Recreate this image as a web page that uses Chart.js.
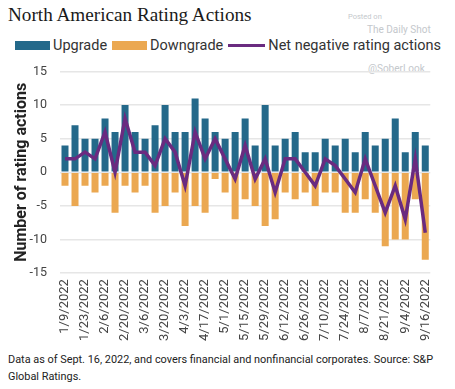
<!DOCTYPE html>
<html>
<head>
<meta charset="utf-8">
<script src="https://cdn.jsdelivr.net/npm/chart.js@4/dist/chart.umd.min.js"></script>
<style>
  body { margin: 0; background: #fff; font-family: Roboto, sans-serif; }
  #wrap { position: relative; width: 455px; height: 389px; overflow: hidden; }
  #title { position: absolute; left: 8px; top: 4px; font-family: "Liberation Serif", serif; font-size: 19.2px; color: #1a1a1a; }
  #legend { position: absolute; left: 15px; top: 37px; display: flex; align-items: center; font-size: 14.5px; color: #333; white-space: nowrap; }
  #legend .sw { display: inline-block; width: 35px; height: 9px; margin-right: 3px; }
  #legend .ln { display: inline-block; width: 37px; height: 3px; margin-right: 3px; }
  #legend span.item { display: inline-flex; align-items: center; margin-right: 5px; }
  .wm { position: absolute; color: #c4c8cc; }
  #chartBox { position: absolute; left: 0; top: 51px; width: 447px; height: 296px; }
  #note { position: absolute; left: 8px; top: 351px; width: 445px; font-size: 10.9px; line-height: 17px; color: #222; }
</style>
</head>
<body>
<div id="wrap">
  <div id="title">North American Rating Actions</div>
  <div class="wm" style="left:348px;top:12px;font-size:7.5px;">Posted on</div>
  <div class="wm" style="left:367px;top:24px;font-size:10px;">The Daily Shot</div>
  <div class="wm" style="left:368px;top:63px;font-size:10px;">@SoberLook</div>
  <div id="legend">
    <span class="item"><span class="sw" style="background:#24698a"></span>Upgrade</span>
    <span class="item"><span class="sw" style="background:#eba851"></span>Downgrade</span>
    <span class="item"><span class="ln" style="background:#6a2b80"></span>Net negative rating actions</span>
  </div>
  <div id="chartBox"><canvas id="ratingChart"></canvas></div>
  <div id="note">Data as of Sept. 16, 2022, and covers financial and nonfinancial corporates. Source: S&amp;P Global Ratings.</div>
</div>
<script>
const weeks = [
  '1/9/2022', '1/16/2022', '1/23/2022', '1/30/2022', '2/6/2022', '2/13/2022', '2/20/2022', '2/27/2022',
  '3/6/2022', '3/13/2022', '3/20/2022', '3/27/2022', '4/3/2022', '4/10/2022', '4/17/2022', '4/24/2022',
  '5/1/2022', '5/8/2022', '5/15/2022', '5/22/2022', '5/29/2022', '6/5/2022', '6/12/2022', '6/19/2022',
  '6/26/2022', '7/3/2022', '7/10/2022', '7/17/2022', '7/24/2022', '7/31/2022', '8/7/2022', '8/14/2022',
  '8/21/2022', '8/28/2022', '9/4/2022', '9/11/2022', '9/16/2022'
];
const upgrades = [4, 7, 5, 5, 8, 6, 10, 6, 5, 7, 10, 6, 6, 11, 8, 6, 5, 6, 8, 4, 10, 4, 5, 6, 3, 3, 5, 4, 5, 3, 6, 4, 5, 8, 3, 6, 4];
const downgrades = [-2, -5, -2, -3, -2, -6, -2, -3, -2, -6, -5, -3, -8, -5, -6, -1, -3, -7, -4, -5, -8, -7, -3, -4, -3, -5, -3, -3, -6, -6, -4, -6, -11, -10, -10, -4, -13];
const netActions = [2, 2, 3, 2, 6, 0, 8, 3, 3, 1, 5, 3, -2, 6, 2, 5, 2, -1, 4, -1, 2, -3, 2, 2, 0, -2, 2, 1, -1, -3, 2, -2, -6, -2, -7, 2, -9];
const yTicks = [-15, -10, -5, 0, 5, 10, 15];

const ctx = document.getElementById('ratingChart');

new Chart(ctx, {
    type: 'bar',
    data: {
        labels: weeks,
        datasets: [
            {
                type: 'line',
                label: 'Net negative rating actions',
                data: netActions,
                borderColor: '#6a2b80',
                borderWidth: 3.5,
                pointRadius: 0,
                tension: 0,
                stack: 'net',
                order: 0
            },
            {
                label: 'Upgrade',
                data: upgrades,
                backgroundColor: '#24698a',
                stack: 'actions',
                order: 1
            },
            {
                label: 'Downgrade',
                data: downgrades,
                backgroundColor: '#eba851',
                stack: 'actions',
                order: 1
            }
        ]
    },
    options: {
        responsive: true,
        maintainAspectRatio: false,
        animation: false,
        layout: { padding: { top: 0, right: 10, left: 12 } },
        datasets: {
            bar: { barPercentage: 0.7, categoryPercentage: 1 }
        },
        plugins: {
            legend: { display: false },
            tooltip: { enabled: false }
        },
        scales: {
            x: {
                stacked: true,
                grid: { display: false, drawTicks: false },
                border: { display: false },
                ticks: {
                    autoSkip: false,
                    maxRotation: 90,
                    minRotation: 90,
                    padding: 6,
                    color: '#444',
                    font: { family: 'Roboto', size: 13 },
                    callback: function (value, index) {
                        return index % 2 === 0 ? weeks[index] : '';
                    }
                }
            },
            y: {
                stacked: true,
                min: yTicks[0],
                max: yTicks[yTicks.length - 1],
                afterBuildTicks: function (axis) {
                    axis.ticks = yTicks.map(v => ({ value: v }));
                },
                afterFit: function (axis) {
                    axis.width = 48;
                },
                grid: { color: '#e6e6e6', lineWidth: 1.5, drawTicks: false },
                border: { display: false },
                ticks: {
                    color: '#444',
                    padding: 13,
                    font: { family: 'Roboto', size: 12.5 }
                },
                title: {
                    display: true,
                    text: 'Number of rating actions',
                    color: '#222',
                    font: { family: 'Roboto', size: 16, weight: 'bold' },
                    padding: { top: 0, bottom: 0 }
                }
            }
        }
    }
});
</script>
</body>
</html>
